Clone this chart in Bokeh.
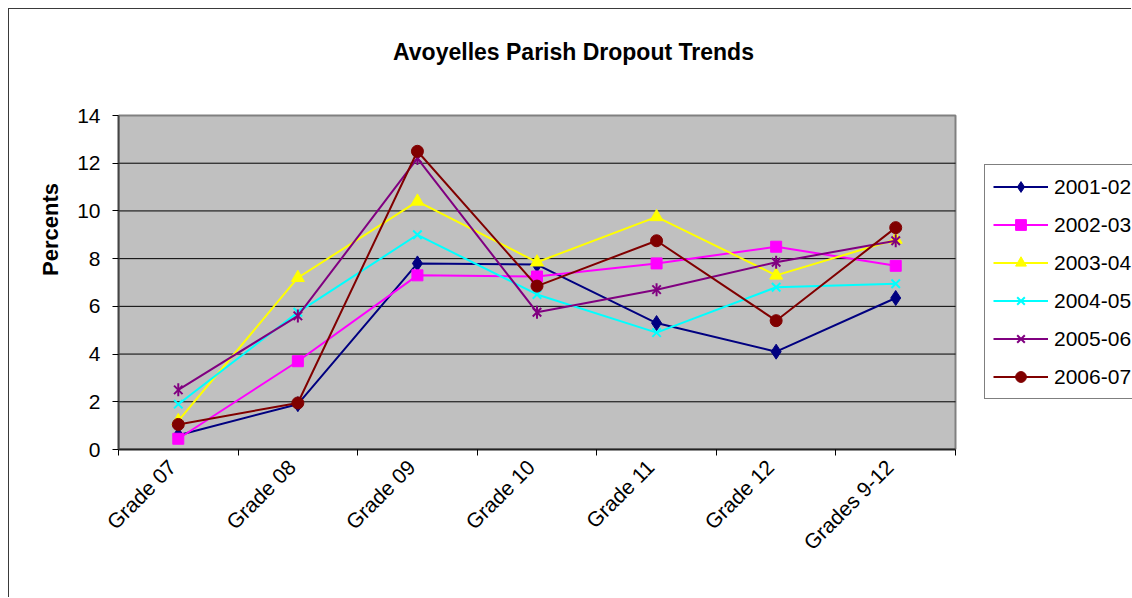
import math
from bokeh.plotting import figure
from bokeh.models import Range1d, FixedTicker, Legend, LegendItem, Label
from bokeh.embed import file_html
from bokeh.resources import INLINE

categories = ["Grade 07", "Grade 08", "Grade 09", "Grade 10", "Grade 11", "Grade 12", "Grades 9-12"]
y_ticks = [0, 2, 4, 6, 8, 10, 12, 14]
series_names = ["2001-02", "2002-03", "2003-04", "2004-05", "2005-06", "2006-07"]
s2001_02 = [0.6, 1.9, 7.8, 7.75, 5.3, 4.1, 6.35]
s2002_03 = [0.45, 3.7, 7.3, 7.25, 7.8, 8.5, 7.7]
s2003_04 = [1.2, 7.2, 10.4, 7.85, 9.75, 7.3, 8.8]
s2004_05 = [1.9, 5.75, 9.0, 6.5, 4.9, 6.8, 6.95]
s2005_06 = [2.5, 5.6, 12.2, 5.75, 6.7, 7.85, 8.75]
s2006_07 = [1.05, 1.95, 12.5, 6.85, 8.75, 5.4, 9.3]

FONT = "Liberation Sans"

# layout (canvas pixels); the canvas sits 8px + 1px border inside the page
W, H = 1123, 589
PA_LEFT, PA_RIGHT, PA_TOP, PA_BOTTOM = 109, 946, 106, 440   # grey plot area
FRAME_W = W - PA_LEFT
FRAME_H = PA_BOTTOM
LABEL_SHIFT_PX = 6   # rotated category labels end slightly left of the category centre

n_cat = len(categories)
y_max = y_ticks[-1]
px_per_cat = (PA_RIGHT - PA_LEFT) / n_cat
x_end = n_cat * FRAME_W / (PA_RIGHT - PA_LEFT)
y_end = y_max * FRAME_H / (PA_BOTTOM - PA_TOP)

centers = [i + 0.5 for i in range(n_cat)]
bounds = list(range(n_cat + 1))
label_pos = [round(c - LABEL_SHIFT_PX / px_per_cat, 4) for c in centers]

p = figure(width=W, height=H, output_backend="svg", toolbar_location=None, title=None,
           x_range=Range1d(0, x_end), y_range=Range1d(0, y_end),
           min_border_left=PA_LEFT, min_border_right=0, min_border_top=0,
           min_border_bottom=H - PA_BOTTOM,
           background_fill_color="white", border_fill_color="white",
           outline_line_color=None,
           styles={"margin-left": "8px", "margin-top": "8px",
                   "border-left": "1px solid #3a3a3a", "border-top": "1px solid #3a3a3a"})

# grey plot area
p.quad(left=[0], right=[n_cat], bottom=[0], top=[y_max], fill_color="#C0C0C0",
       line_color="#808080", line_width=2, level="image")

# horizontal gridlines inside the plot area only
inner = [t for t in y_ticks if 0 < t < y_max]
p.segment(x0=[0] * len(inner), y0=inner, x1=[n_cat] * len(inner), y1=inner,
          line_color="black", line_width=1, level="underlay")

# x axis: labels near category centres, ticks at boundaries
xa = p.xaxis[0]
xa.bounds = (0, n_cat)
xa.ticker = FixedTicker(ticks=label_pos, minor_ticks=bounds)
xa.major_label_overrides = {c: lab for c, lab in zip(label_pos, categories)}
xa.major_tick_out = 0
xa.major_tick_in = 0
xa.minor_tick_out = 6
xa.minor_tick_in = 0
xa.minor_tick_line_color = "black"
xa.axis_line_color = "#222222"
xa.axis_line_width = 2
xa.major_label_orientation = math.pi / 4
xa.major_label_standoff = 8
xa.major_label_text_font = FONT
xa.major_label_text_font_size = "21px"
xa.major_label_text_color = "black"

ya = p.yaxis[0]
ya.bounds = (0, y_max)
ya.ticker = FixedTicker(ticks=y_ticks)
ya.major_tick_out = 6
ya.major_tick_in = 0
ya.minor_tick_line_color = None
ya.major_tick_line_color = "black"
ya.axis_line_color = "#444444"
ya.axis_line_width = 2
ya.major_label_standoff = 12
ya.major_label_text_font = FONT
ya.major_label_text_font_size = "21px"
ya.major_label_text_color = "black"
ya.axis_label = "Percents"
ya.axis_label_text_font = FONT
ya.axis_label_text_font_size = "22px"
ya.axis_label_text_font_style = "bold"
ya.axis_label_text_color = "black"
ya.axis_label_standoff = 11

p.xgrid.grid_line_color = None
p.ygrid.grid_line_color = None

items = []

def add_series(name, ys, color, markers):
    rs = [p.line(centers, ys, line_color=color, line_width=2)]
    for m in markers:
        rs.append(p.scatter(centers, ys, **m))
    items.append(LegendItem(label=name, renderers=rs))

add_series(series_names[0], s2001_02, "#000080",
           [dict(marker="diamond", size=15, fill_color="#000080", line_color="#000080")])
add_series(series_names[1], s2002_03, "#FF00FF",
           [dict(marker="square", size=11, fill_color="#FF00FF", line_color="#FF00FF")])
add_series(series_names[2], s2003_04, "#FFFF00",
           [dict(marker="triangle", size=13, fill_color="#FFFF00", line_color="#FFFF00")])
add_series(series_names[3], s2004_05, "#00FFFF",
           [dict(marker="x", size=12, line_color="#00FFFF", line_width=2)])
add_series(series_names[4], s2005_06, "#800080",
           [dict(marker="x", size=12, line_color="#800080", line_width=2),
            dict(marker="dash", angle=math.pi / 2, size=13, line_color="#800080", line_width=2)])
add_series(series_names[5], s2006_07, "#800000",
           [dict(marker="circle", size=12, fill_color="#800000", line_color="#800000")])

legend = Legend(items=items, location=(866, 50), margin=0, padding=8, spacing=11,
                glyph_width=55, glyph_height=27, label_height=27, label_standoff=6,
                label_text_font=FONT, label_text_font_size="21px", label_text_color="black",
                border_line_color="black", border_line_width=1, background_fill_color="white",
                background_fill_alpha=1.0)
p.add_layout(legend, "center")

title = Label(x=455, y=FRAME_H - 42, x_units="screen", y_units="screen",
              text="Avoyelles Parish Dropout Trends", text_align="center",
              text_baseline="alphabetic", text_font=FONT, text_font_size="23px",
              text_font_style="bold", text_color="black")
p.add_layout(title)

open("out.html", "w").write(file_html(p, INLINE))
